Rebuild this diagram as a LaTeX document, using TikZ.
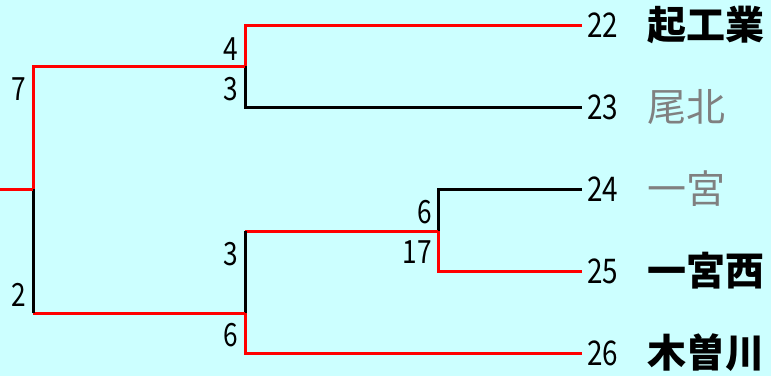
\documentclass[tikz,border=0pt]{standalone}
\usepackage{fontspec}
\newfontfamily\jpfont{Noto Sans CJK JP}
\newfontfamily\digfont[FakeStretch=0.82]{Noto Sans CJK JP}
\definecolor{bgc}{HTML}{CCFFFF}
\definecolor{winred}{HTML}{FF0000}
\definecolor{losegray}{HTML}{808080}
\begin{document}
\begin{tikzpicture}[x=1pt,y=-1pt,
  win/.style={draw=winred,line width=3pt},
  lose/.style={draw=black,line width=3pt},
  score/.style={inner sep=0pt,anchor=east,font=\digfont\fontsize{32}{32}\selectfont},
  seed/.style={inner sep=0pt,anchor=west,font=\digfont\fontsize{34}{34}\selectfont},
  team/.style={inner sep=0pt,anchor=west,font=\jpfont\fontsize{39}{39}\selectfont},
  winner/.style={team,font=\jpfont\bfseries\fontsize{39}{39}\selectfont,text=black},
  loser/.style={team,text=losegray}]
\fill[bgc] (0,0) rectangle (771,376);
\useasboundingbox (0,0) rectangle (771,376);
% entry ends
\coordinate (e22) at (582,25);
\coordinate (e23) at (582,107);
\coordinate (e24) at (582,189);
\coordinate (e25) at (582,271);
\coordinate (e26) at (582,353);
% corners
\coordinate (a22) at (245,25);
\coordinate (a23) at (245,107);
\coordinate (b24) at (438,189);
\coordinate (b25) at (438,271);
\coordinate (a26) at (245,353);
% junctions
\coordinate (j1) at (245,66);
\coordinate (j2) at (438,231);
\coordinate (j2l) at (245,231);
\coordinate (j3) at (245,313);
\coordinate (r1) at (33,66);
\coordinate (r2) at (33,313);
\coordinate (root) at (33,189);
\coordinate (stub) at (0,189);
% top semifinal
\draw[win] (e22) -- (a22) -- (j1);
\draw[lose] (j1) -- (a23) -- (e23);
\draw[win] (j1) -- (r1) -- (root);
% 24 vs 25
\draw[lose] (e24) -- (b24) -- (j2);
\draw[win] (j2) -- (b25) -- (e25);
\draw[win] (j2) -- (j2l);
\draw[lose] (j2l) -- (j3);
\draw[win] (j3) -- (a26) -- (e26);
\draw[win] (j3) -- (r2);
\draw[lose] (r2) -- (root);
\draw[win] (root) -- (stub);
% scores
\node[score] (s7) at (26,89) {7};
\node[score] (s2) at (26,295) {2};
\node[score] (s4) at (238,49) {4};
\node[score] (s3a) at (238,89) {3};
\node[score] (s3b) at (238,254) {3};
\node[score] (s6a) at (238,335) {6};
\node[score] (s6b) at (432,212) {6};
\node[score] (s17) at (432,252) {17};
% seeds
\node[seed] (n22) at (587,25) {22};
\node[seed] (n23) at (587,107) {23};
\node[seed] (n24) at (587,189) {24};
\node[seed] (n25) at (587,271) {25};
\node[seed] (n26) at (587,353) {26};
% teams
\node[winner] (t22) at (647,25) {起工業};
\node[loser] (t23) at (647,107) {尾北};
\node[loser] (t24) at (647,189) {一宮};
\node[winner] (t25) at (647,271) {一宮西};
\node[winner] (t26) at (647,353) {木曽川};
\end{tikzpicture}
\end{document}
